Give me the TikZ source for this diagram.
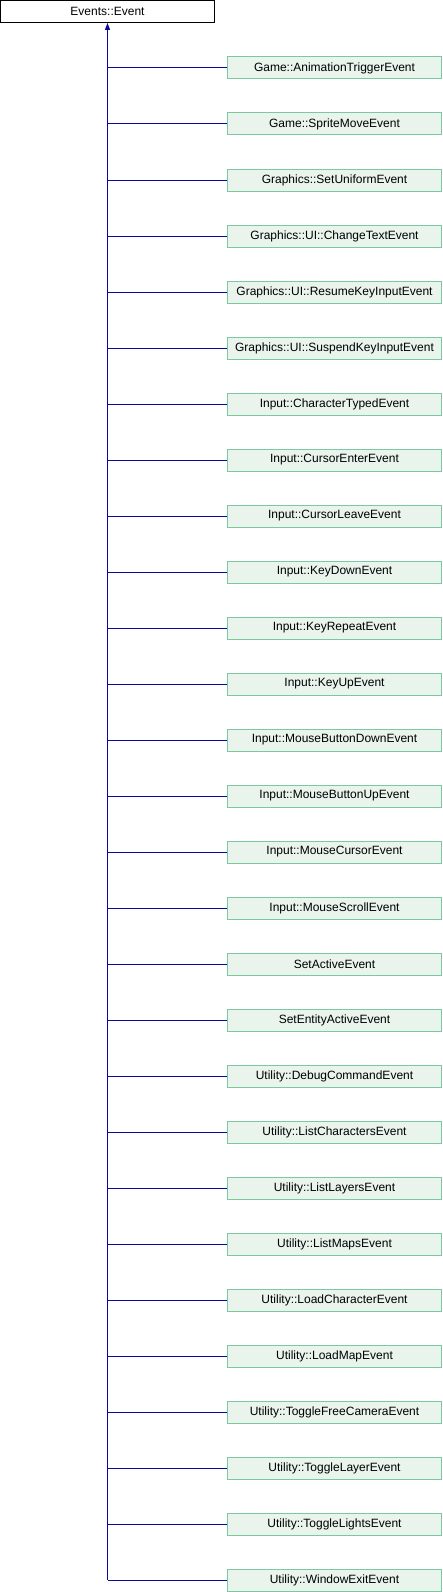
\documentclass[tikz,border=0pt]{standalone}
\usepackage{fontspec}
\setmainfont{Liberation Sans}
\usetikzlibrary{arrows.meta}
\definecolor{boxgreen}{HTML}{E8F4EC}
\definecolor{linegreen}{HTML}{7CC8A0}
\definecolor{edgeblue}{HTML}{0A0A9A}
\tikzset{
  base/.style={draw=black, fill=white, line width=1pt, minimum width=214pt, minimum height=22pt, inner sep=0pt, font=\fontsize{12}{14}\selectfont},
  derived/.style={draw=linegreen, fill=boxgreen, line width=1pt, minimum width=214pt, minimum height=22pt, inner sep=0pt, font=\fontsize{12}{14}\selectfont},
  edge/.style={draw=edgeblue, line width=1pt}
}
\begin{document}
\begin{tikzpicture}[x=1pt, y=-1pt]
	\useasboundingbox (0,0) rectangle (442,1592);
	\node[base] (event) at (107.5,11.5) {Events::Event};
	\node[derived] (d1) at (334.5,68) {Game::AnimationTriggerEvent};
	\node[derived] (d2) at (334.5,124) {Game::SpriteMoveEvent};
	\node[derived] (d3) at (334.5,180) {Graphics::SetUniformEvent};
	\node[derived] (d4) at (334.5,236) {Graphics::UI::ChangeTextEvent};
	\node[derived] (d5) at (334.5,292) {Graphics::UI::ResumeKeyInputEvent};
	\node[derived] (d6) at (334.5,348) {Graphics::UI::SuspendKeyInputEvent};
	\node[derived] (d7) at (334.5,404) {Input::CharacterTypedEvent};
	\node[derived] (d8) at (334.5,460) {Input::CursorEnterEvent};
	\node[derived] (d9) at (334.5,516) {Input::CursorLeaveEvent};
	\node[derived] (d10) at (334.5,572) {Input::KeyDownEvent};
	\node[derived] (d11) at (334.5,628) {Input::KeyRepeatEvent};
	\node[derived] (d12) at (334.5,684) {Input::KeyUpEvent};
	\node[derived] (d13) at (334.5,740) {Input::MouseButtonDownEvent};
	\node[derived] (d14) at (334.5,796) {Input::MouseButtonUpEvent};
	\node[derived] (d15) at (334.5,852) {Input::MouseCursorEvent};
	\node[derived] (d16) at (334.5,908) {Input::MouseScrollEvent};
	\node[derived] (d17) at (334.5,964) {SetActiveEvent};
	\node[derived] (d18) at (334.5,1020) {SetEntityActiveEvent};
	\node[derived] (d19) at (334.5,1076) {Utility::DebugCommandEvent};
	\node[derived] (d20) at (334.5,1132) {Utility::ListCharactersEvent};
	\node[derived] (d21) at (334.5,1188) {Utility::ListLayersEvent};
	\node[derived] (d22) at (334.5,1244) {Utility::ListMapsEvent};
	\node[derived] (d23) at (334.5,1300) {Utility::LoadCharacterEvent};
	\node[derived] (d24) at (334.5,1356) {Utility::LoadMapEvent};
	\node[derived] (d25) at (334.5,1412) {Utility::ToggleFreeCameraEvent};
	\node[derived] (d26) at (334.5,1468) {Utility::ToggleLayerEvent};
	\node[derived] (d27) at (334.5,1524) {Utility::ToggleLightsEvent};
	\node[derived] (d28) at (334.5,1580) {Utility::WindowExitEvent};
	% trunk with the inheritance arrow
	\coordinate (trunk) at (d28.west -| event.south);
	\draw[edge, -{Triangle[length=7pt, width=5pt]}] (trunk) -- (event.south);
	\draw[edge] (d1.west) -- (d1.west -| event.south);
	\draw[edge] (d2.west) -- (d2.west -| event.south);
	\draw[edge] (d3.west) -- (d3.west -| event.south);
	\draw[edge] (d4.west) -- (d4.west -| event.south);
	\draw[edge] (d5.west) -- (d5.west -| event.south);
	\draw[edge] (d6.west) -- (d6.west -| event.south);
	\draw[edge] (d7.west) -- (d7.west -| event.south);
	\draw[edge] (d8.west) -- (d8.west -| event.south);
	\draw[edge] (d9.west) -- (d9.west -| event.south);
	\draw[edge] (d10.west) -- (d10.west -| event.south);
	\draw[edge] (d11.west) -- (d11.west -| event.south);
	\draw[edge] (d12.west) -- (d12.west -| event.south);
	\draw[edge] (d13.west) -- (d13.west -| event.south);
	\draw[edge] (d14.west) -- (d14.west -| event.south);
	\draw[edge] (d15.west) -- (d15.west -| event.south);
	\draw[edge] (d16.west) -- (d16.west -| event.south);
	\draw[edge] (d17.west) -- (d17.west -| event.south);
	\draw[edge] (d18.west) -- (d18.west -| event.south);
	\draw[edge] (d19.west) -- (d19.west -| event.south);
	\draw[edge] (d20.west) -- (d20.west -| event.south);
	\draw[edge] (d21.west) -- (d21.west -| event.south);
	\draw[edge] (d22.west) -- (d22.west -| event.south);
	\draw[edge] (d23.west) -- (d23.west -| event.south);
	\draw[edge] (d24.west) -- (d24.west -| event.south);
	\draw[edge] (d25.west) -- (d25.west -| event.south);
	\draw[edge] (d26.west) -- (d26.west -| event.south);
	\draw[edge] (d27.west) -- (d27.west -| event.south);
	\draw[edge] (d28.west) -- (d28.west -| event.south);
\end{tikzpicture}
\end{document}
